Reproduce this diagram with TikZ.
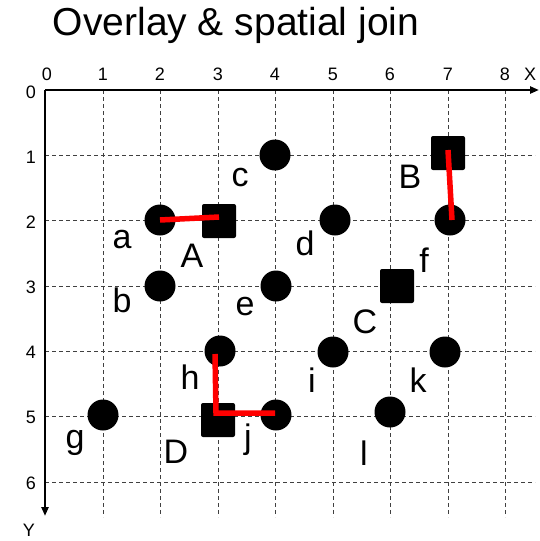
\documentclass[tikz,border=0pt]{standalone}
\usepackage{fontspec}
\setmainfont{Liberation Sans}
\usetikzlibrary{arrows.meta}
\begin{document}
\begin{tikzpicture}[x=1pt,y=-1pt,
  gridline/.style={draw=black!75,dash pattern=on 4pt off 3pt,line width=0.9pt},
  axis/.style={draw=black,line width=2.2pt,-{Triangle[length=9pt,width=7pt]}},
  pt/.style={circle,fill=black,minimum size=31pt,inner sep=0pt},
  sq/.style={rounded corners=2pt,fill=black,minimum size=34pt,inner sep=0pt},
  joinline/.style={draw=red,line width=5.5pt},
  lbl/.style={font=\fontsize{34}{34}\selectfont,inner sep=0pt},
  tick/.style={font=\fontsize{18}{18}\selectfont,inner sep=0pt}]
\useasboundingbox (0,0) rectangle (539,541);
% title
\node[font=\fontsize{39}{39}\selectfont,inner sep=0pt] (title) at (236,25) {Overlay \& spatial join};
% grid
\foreach \x in {103,160,218,275,333,390,448,505}
  \draw[gridline] (\x,90) -- (\x,517);
\foreach \y in {155,220,286,351,416,482}
  \draw[gridline] (45,\y) -- (535,\y);
% axes
\coordinate (O) at (45,90);
\coordinate (XE) at (539,90);
\coordinate (YE) at (45,516);
\draw[axis] (O) -- (XE);
\draw[axis] (O) -- (YE);
% tick labels
\foreach \v/\x in {0/47,1/103,2/160,3/218,4/275,5/333,6/390,7/448,8/505}
  \node[tick] (tx\v) at (\x,74) {\v};
\node[tick] (tX) at (530,74) {X};
\foreach \v/\y in {0/92,1/157,2/222,3/287,4/352,5/417,6/483}
  \node[tick] (ty\v) at (31,\y) {\v};
\node[tick] (tY) at (29,530) {Y};
% points
\node[pt] (pa) at (160,220) {};
\node[pt] (pc) at (275,155) {};
\node[pt] (p72) at (450,220) {};
\node[pt] (pd) at (335,220) {};
\node[pt] (pb) at (160,286) {};
\node[pt] (pe) at (276,286) {};
\node[pt] (ph) at (220,351) {};
\node[pt] (pi) at (333,352) {};
\node[pt] (pk) at (445,352) {};
\node[pt] (pg) at (103,415) {};
\node[pt] (pj) at (276,415) {};
\node[pt] (pl) at (390,412) {};
% squares
\node[sq] (sA) at (219,221) {};
\node[sq] (sB) at (448,153) {};
\node[sq] (sC) at (397,286) {};
\node[sq] (sD) at (218,420) {};
% join lines
\coordinate (a1) at (160,220);
\coordinate (A1) at (219,217);
\draw[joinline] (a1) -- (A1);
\coordinate (B1) at (448,150);
\coordinate (B2) at (452,220);
\draw[joinline] (B1) -- (B2);
\coordinate (h1) at (215,354);
\coordinate (D1) at (216,413);
\coordinate (j1) at (275,413);
\draw[joinline,line join=miter] (h1) -- (D1) -- (j1);
% labels
\node[lbl] (la) at (122,240) {a};
\node[lbl] (lA) at (192,256) {A};
\node[lbl] (lc) at (240,178) {c};
\node[lbl] (lB) at (410,177) {B};
\node[lbl] (ld) at (305,243) {d};
\node[lbl] (lf) at (424,260) {f};
\node[lbl] (lb) at (122,300) {b};
\node[lbl] (le) at (245,307) {e};
\node[lbl] (lC) at (365,322) {C};
\node[lbl] (lh) at (190,377) {h};
\node[lbl] (li) at (312,380) {i};
\node[lbl] (lk) at (418,380) {k};
\node[lbl] (lg) at (75,443) {g};
\node[lbl] (lD) at (176,452) {D};
\node[lbl] (lj) at (248,440) {j};
\node[lbl] (ll) at (364,453) {l};
\end{tikzpicture}
\end{document}
